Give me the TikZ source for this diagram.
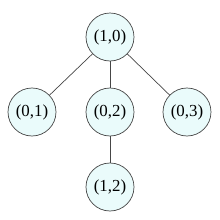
\documentclass[tikz,border=0pt]{standalone}
\usepackage{fontspec}
\setmainfont{Liberation Serif}
\definecolor{nodefill}{RGB}{234,251,251}
\definecolor{edgecol}{RGB}{70,70,70}
\begin{document}
\begin{tikzpicture}[
  vert/.style={circle, draw=edgecol, fill=nodefill, line width=0.5pt, minimum size=1.2cm, inner sep=0pt, font=\fontsize{12}{14}\selectfont},
  edge/.style={draw=edgecol, line width=0.5pt}
]
\useasboundingbox (0,0) rectangle (5.5,5.5);
\node[vert] (n10) at (2.75,4.575) {(1,0)};
\node[vert] (n01) at (0.8,2.7) {(0,1)};
\node[vert] (n02) at (2.75,2.7) {(0,2)};
\node[vert] (n03) at (4.675,2.7) {(0,3)};
\node[vert] (n12) at (2.75,0.825) {(1,2)};
\path[edge] (n10) -- (n01);
\path[edge] (n10) -- (n02);
\path[edge] (n10) -- (n03);
\path[edge] (n02) -- (n12);
\end{tikzpicture}
\end{document}
